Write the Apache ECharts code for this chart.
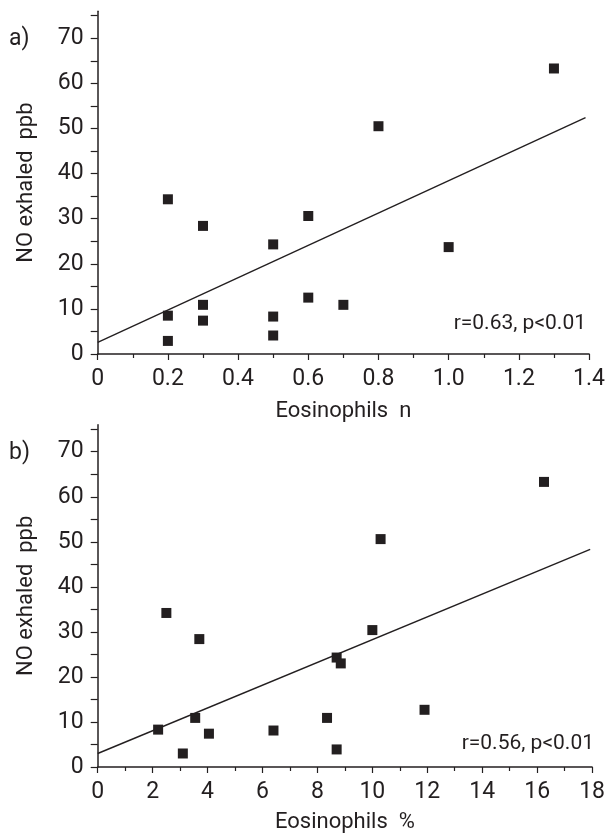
<!DOCTYPE html>
<html>
<head>
<meta charset="utf-8">
<script src="https://cdn.jsdelivr.net/npm/echarts@6/dist/echarts.min.js"></script>
<style>html,body{margin:0;padding:0;background:#fff;}#c{width:608px;height:838px;}</style>
</head>
<body>
<div id="c"></div>
<script>
// Panel a) Eosinophils n vs NO exhaled ppb
const eosN = [0.2, 0.3, 0.5, 0.2, 0.3, 0.3, 0.2, 0.5, 0.5, 0.6, 0.6, 0.7, 1.0, 0.8, 1.3];
const noA  = [34.3, 28.4, 24.3, 8.5, 7.4, 10.9, 2.9, 8.3, 4.1, 30.6, 12.5, 10.9, 23.7, 50.5, 63.3];
const fitA = [[0, 2.6], [1.39, 52.4]];
const statA = 'r=0.63, p<0.01';

// Panel b) Eosinophils % vs NO exhaled ppb
const eosPct = [2.2, 3.1, 3.55, 4.05, 3.7, 6.4, 10.0, 8.7, 8.85, 8.35, 8.7, 11.9, 2.5, 10.3, 16.25];
const noB    = [8.3, 3.0, 10.9, 7.4, 28.4, 8.1, 30.4, 24.3, 23.0, 10.9, 3.9, 12.7, 34.2, 50.6, 63.3];
const fitB = [[0, 3.0], [17.93, 48.3]];
const statB = 'r=0.56, p<0.01';

const yTicks = [0, 10, 20, 30, 40, 50, 60, 70];
const yMinor = [0, 5, 10, 15, 20, 25, 30, 35, 40, 45, 50, 55, 60, 65, 70, 75];

const FONT = 'Roboto, "Liberation Sans", sans-serif';
const INK = '#231f20';

function pairs(xs, ys) { return xs.map((x, i) => [x, ys[i]]); }

function xAxisCfg(idx, max, interval, name, gap) {
  return {
    type: 'value', gridIndex: idx, min: 0, max: max, interval: interval,
    name: name, nameLocation: 'middle', nameGap: gap,
    nameTextStyle: { fontFamily: FONT, fontSize: 22, color: INK },
    axisLine: { show: true, onZero: false, lineStyle: { color: INK, width: 1.5 } },
    axisTick: { show: true, inside: false, length: 6, lineStyle: { color: INK, width: 1.2 } },
    minorTick: { show: true, splitNumber: 2, length: 4, lineStyle: { color: INK, width: 1.2 } },
    axisLabel: { fontFamily: FONT, fontSize: 23, color: INK, margin: 14,
      formatter: v => (interval < 1 ? v.toFixed(1).replace(/^0\.0$/, '0') : String(v)) },
    splitLine: { show: false }
  };
}
function yAxisCfg(idx) {
  return {
    type: 'value', gridIndex: idx, min: 0, max: 76, interval: 10,
    name: 'NO exhaled  ppb', nameLocation: 'middle', nameGap: 60, nameRotate: 90,
    nameTextStyle: { fontFamily: FONT, fontSize: 22, color: INK },
    axisLine: { show: true, onZero: false, lineStyle: { color: INK, width: 1.5 } },
    axisTick: { show: true, inside: false, length: 7, customValues: yMinor, lineStyle: { color: INK, width: 1.2 } },
    axisLabel: { fontFamily: FONT, fontSize: 23, color: INK, margin: 14, customValues: yTicks },
    splitLine: { show: false }
  };
}

const chart = echarts.init(document.getElementById('c'), null, { renderer: 'canvas' });
chart.setOption({
  backgroundColor: '#fff',
  animation: false,
  grid: [
    { left: 97.7, right: 14, top: 11.2, bottom: 484 },
    { left: 97.7, right: 13.3, top: 424.7, bottom: 71 }
  ],
  xAxis: [
    xAxisCfg(0, 1.4, 0.2, 'Eosinophils  n', 46),
    xAxisCfg(1, 18, 2, 'Eosinophils  %', 44)
  ],
  yAxis: [yAxisCfg(0), yAxisCfg(1)],
  series: [
    { type: 'scatter', xAxisIndex: 0, yAxisIndex: 0, data: pairs(eosN, noA),
      symbol: 'rect', symbolSize: 10, itemStyle: { color: INK, opacity: 1 } },
    { type: 'line', xAxisIndex: 0, yAxisIndex: 0, data: fitA, symbol: 'none',
      lineStyle: { color: INK, width: 1.4 } },
    { type: 'scatter', xAxisIndex: 1, yAxisIndex: 1, data: pairs(eosPct, noB),
      symbol: 'rect', symbolSize: 10, itemStyle: { color: INK, opacity: 1 } },
    { type: 'line', xAxisIndex: 1, yAxisIndex: 1, data: fitB, symbol: 'none',
      lineStyle: { color: INK, width: 1.4 } }
  ],
  graphic: [
    { type: 'text', left: 9, top: 28, style: { text: 'a)', font: '23px ' + FONT, fill: INK } },
    { type: 'text', left: 9, top: 442, style: { text: 'b)', font: '23px ' + FONT, fill: INK } },
    { type: 'text', right: 22, top: 313, style: { text: statA, font: '21px ' + FONT, fill: INK } },
    { type: 'text', right: 14, top: 733, style: { text: statB, font: '21px ' + FONT, fill: INK } }
  ]
});
</script>
</body>
</html>
